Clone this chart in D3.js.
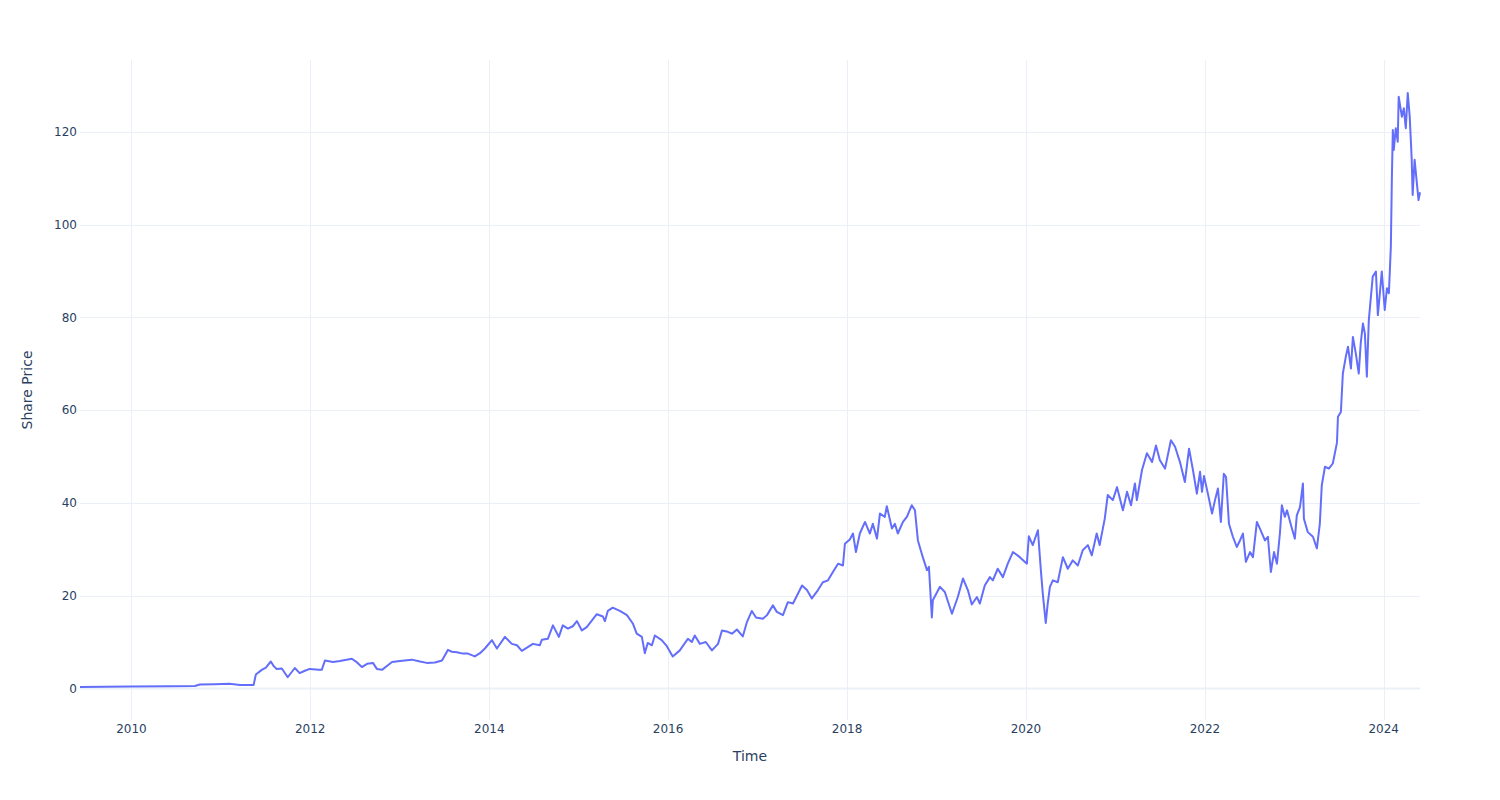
<!DOCTYPE html>
<html>
<head>
<meta charset="utf-8">
<script src="https://cdn.jsdelivr.net/npm/d3@7"></script>
<style>
  html, body { margin: 0; padding: 0; background: #fff; }
  svg { display: block; }
  text { font-family: "DejaVu Sans", sans-serif; fill: #2a3f5f; }
</style>
</head>
<body>
<svg id="chart" width="1500" height="800"></svg>
<script>
// ---- data ----
const dates = [
  "2009-06-05","2009-12-26","2010-06-07","2010-09-17","2010-10-07","2010-12-07",
  "2011-02-06","2011-03-20","2011-05-15","2011-05-24","2011-06-17","2011-07-04","2011-07-24","2011-08-05","2011-08-17","2011-09-07","2011-10-01","2011-10-30","2011-11-19","2011-12-10","2011-12-30",
  "2012-02-05","2012-02-17","2012-03-01","2012-04-03","2012-05-01","2012-06-19","2012-07-10","2012-07-30","2012-08-20","2012-09-13","2012-09-29","2012-10-20","2012-11-13","2012-11-30",
  "2013-01-01","2013-02-19","2013-03-24","2013-04-21","2013-05-24","2013-06-22","2013-07-16","2013-08-01","2013-08-22","2013-09-15","2013-10-06","2013-11-03","2013-11-24","2013-12-14",
  "2014-01-12","2014-02-01","2014-03-06","2014-04-03","2014-04-24","2014-05-14","2014-06-28","2014-07-26","2014-08-04","2014-08-28","2014-09-18","2014-10-12","2014-10-28","2014-11-18","2014-12-08","2014-12-25",
  "2015-01-14","2015-02-03","2015-03-16","2015-04-10","2015-04-18","2015-04-30","2015-05-20","2015-06-18","2015-07-17","2015-08-10","2015-08-26","2015-09-16","2015-09-28","2015-10-10","2015-10-27","2015-11-08","2015-12-06","2015-12-27",
  "2016-01-20","2016-02-18","2016-03-22","2016-04-07","2016-04-19","2016-05-10","2016-06-03","2016-06-28","2016-07-23","2016-08-08","2016-09-01","2016-09-18","2016-10-08","2016-11-01","2016-11-18","2016-12-08","2016-12-25",
  "2017-01-22","2017-02-08","2017-03-04","2017-03-20","2017-04-14","2017-05-04","2017-05-25","2017-07-01","2017-07-21","2017-08-10","2017-09-04","2017-09-24","2017-10-15","2017-11-04","2017-11-25","2017-12-15","2017-12-23",
  "2018-01-12","2018-01-25","2018-02-06","2018-02-22","2018-03-15","2018-04-04","2018-04-16","2018-05-03","2018-05-15","2018-06-04","2018-06-12","2018-07-03","2018-07-15","2018-07-27","2018-08-17","2018-09-02","2018-09-22","2018-10-05","2018-10-17","2018-11-06","2018-11-23","2018-12-01","2018-12-13","2018-12-17",
  "2019-01-15","2019-02-04","2019-03-05","2019-03-29","2019-04-19","2019-05-09","2019-05-25","2019-06-15","2019-06-27","2019-07-17","2019-08-07","2019-08-19","2019-09-08","2019-09-29","2019-10-19","2019-11-09","2019-12-07",
  "2020-01-05","2020-01-13","2020-01-29","2020-02-19","2020-03-02","2020-03-10","2020-03-22","2020-03-30","2020-04-08","2020-04-20","2020-05-10","2020-05-31","2020-06-20","2020-07-10","2020-07-31","2020-08-20","2020-09-10","2020-09-26","2020-10-16","2020-10-28","2020-11-18","2020-11-30","2020-12-21",
  "2021-01-07","2021-01-31","2021-02-17","2021-03-05","2021-03-21","2021-03-29","2021-04-19","2021-05-09","2021-05-30","2021-06-15","2021-07-01","2021-07-22","2021-08-15","2021-09-01","2021-09-21","2021-10-11","2021-10-28","2021-11-13","2021-11-29","2021-12-12","2021-12-20","2021-12-28",
  "2022-01-13","2022-01-30","2022-02-11","2022-02-23","2022-03-07","2022-03-19","2022-03-28","2022-04-09","2022-04-25","2022-05-11","2022-05-24","2022-06-05","2022-06-17","2022-07-04","2022-07-16","2022-08-01","2022-08-13","2022-09-03","2022-09-15","2022-09-27","2022-10-10","2022-10-22","2022-11-03","2022-11-11","2022-11-23","2022-12-02","2022-12-22",
  "2023-01-03","2023-01-11","2023-01-24","2023-02-05","2023-02-09","2023-02-25","2023-03-18","2023-04-03","2023-04-15","2023-04-23","2023-05-06","2023-05-22","2023-06-07","2023-06-24","2023-06-28","2023-07-10","2023-07-18","2023-07-30","2023-08-08","2023-08-20","2023-08-28","2023-09-09","2023-09-21","2023-09-29","2023-10-08","2023-10-16","2023-10-24","2023-11-01","2023-11-17","2023-11-30","2023-12-08","2023-12-16","2023-12-24",
  "2024-01-05","2024-01-14","2024-01-22","2024-01-30","2024-02-03","2024-02-07","2024-02-11","2024-02-19","2024-02-27","2024-03-02","2024-03-15","2024-03-23","2024-03-31","2024-04-08","2024-04-16","2024-04-24","2024-04-28","2024-05-06","2024-05-14","2024-05-22","2024-05-28"
];
const prices = [
  0.3,0.4,0.45,0.5,0.85,0.9,
  1.0,0.75,0.75,3.0,4.0,4.5,5.8,4.8,4.2,4.3,2.4,4.4,3.3,3.8,4.2,
  4.0,4.0,6.0,5.7,5.9,6.4,5.6,4.6,5.3,5.5,4.2,4.0,5.0,5.7,
  5.9,6.2,5.8,5.5,5.6,6.0,8.3,7.9,7.8,7.5,7.5,6.9,7.6,8.6,
  10.4,8.6,11.1,9.6,9.3,8.1,9.6,9.3,10.5,10.7,13.6,11.1,13.6,12.9,13.4,14.5,
  12.5,13.2,16.0,15.5,14.5,16.7,17.4,16.7,15.8,14.0,11.8,11.1,7.6,9.8,9.3,11.4,10.4,9.1,
  6.9,8.2,10.7,10.0,11.4,9.6,10.0,8.2,9.6,12.5,12.2,11.8,12.7,11.2,14.3,16.7,15.3,
  15.0,15.8,17.9,16.5,15.8,18.6,18.3,22.2,21.2,19.4,21.2,22.9,23.3,25.1,26.9,26.5,31.2,
  32.1,33.4,29.4,33.4,35.9,33.4,35.5,32.3,37.7,37.0,39.3,34.5,35.5,33.4,35.9,37.0,39.5,38.4,31.9,28.3,25.5,26.2,15.3,19.0,
  21.9,20.8,16.1,19.7,23.7,21.2,18.1,19.7,18.3,22.2,24.0,23.3,25.8,24.0,26.9,29.4,28.3,
  26.9,32.8,30.9,34.1,25.5,20.4,14.1,18.3,21.9,23.3,22.9,28.3,25.8,27.6,26.5,29.8,30.9,28.7,33.4,30.9,36.6,41.7,40.6,
  43.4,38.4,42.4,39.5,44.2,40.6,47.1,50.7,48.8,52.4,49.2,47.4,53.5,52.1,48.8,44.5,51.7,47.1,42.0,46.7,42.4,45.8,
  42.0,37.7,40.6,43.1,35.9,46.3,45.6,35.5,32.7,30.5,31.9,33.4,27.3,29.4,28.3,35.9,34.5,31.9,32.7,25.1,29.4,26.9,33.4,39.5,37.0,38.4,34.5,
  32.3,37.3,39.1,44.2,36.6,33.7,32.7,30.2,35.5,43.8,47.8,47.4,48.5,53.0,58.6,59.6,67.9,71.5,73.7,69.0,75.8,72.2,67.9,74.4,78.7,76.5,67.2,79.4,88.8,89.9,80.5,85.2,89.9,
  81.6,86.3,85.2,95.3,109.6,120.4,116.1,120.8,117.9,127.6,123.3,125.1,120.8,128.4,123.3,114.3,106.4,114.0,109.6,105.3,107.0
];
const yTicks = [0, 20, 40, 60, 80, 100, 120];
const xTitle = "Time";
const yTitle = "Share Price";

// ---- chart ----
const W = 1500, H = 800;
const M = {left: 80, right: 80, top: 60, bottom: 80};
const parse = d3.utcParse("%Y-%m-%d");
const data = dates.map((d, i) => ({date: parse(d), value: prices[i]}));

const svg = d3.select("#chart");
const x = d3.scaleUtc()
  .domain(d3.extent(data, d => d.date))
  .range([M.left, W - M.right]);

const [ymin, ymax] = d3.extent(data, d => d.value);
const span = (ymax - ymin) / 0.9;
const pad = 0.05 * span;
const y = d3.scaleLinear()
  .domain([ymin - pad, ymax + pad])
  .range([H - M.bottom, M.top]);

const grid = "#EBF0F8";

// vertical grid + x labels
const xTicks = x.ticks(d3.utcYear.every(2));
const gx = svg.append("g");
gx.selectAll("line").data(xTicks).join("line")
  .attr("x1", d => Math.round(x(d)) + 0.5).attr("x2", d => Math.round(x(d)) + 0.5)
  .attr("y1", M.top).attr("y2", H - M.bottom)
  .attr("stroke", grid).attr("stroke-width", 1);
gx.selectAll("text").data(xTicks).join("text")
  .attr("x", d => x(d)).attr("y", H - M.bottom + 13)
  .attr("text-anchor", "middle").attr("font-size", 12)
  .text(d => d3.utcFormat("%Y")(d));

// horizontal grid + y labels
const gy = svg.append("g");
gy.selectAll("line").data(yTicks.filter(t => t !== 0)).join("line")
  .attr("x1", M.left).attr("x2", W - M.right)
  .attr("y1", d => Math.round(y(d)) + 0.5).attr("y2", d => Math.round(y(d)) + 0.5)
  .attr("stroke", grid).attr("stroke-width", 1);
gy.selectAll("text").data(yTicks).join("text")
  .attr("x", M.left - 3).attr("y", d => y(d) + 4.2)
  .attr("text-anchor", "end").attr("font-size", 12)
  .text(d => d3.format("d")(d));

// zero line
svg.append("line")
  .attr("x1", M.left).attr("x2", W - M.right)
  .attr("y1", y(0)).attr("y2", y(0))
  .attr("stroke", grid).attr("stroke-width", 2);

// series line
const line = d3.line().x(d => x(d.date)).y(d => y(d.value));
svg.append("path").datum(data)
  .attr("d", line)
  .attr("fill", "none")
  .attr("stroke", "#636efa")
  .attr("stroke-width", 2)
  .attr("stroke-linejoin", "round");

// axis titles
svg.append("text")
  .attr("x", (M.left + W - M.right) / 2).attr("y", 761)
  .attr("text-anchor", "middle").attr("font-size", 14)
  .text(xTitle);
svg.append("text")
  .attr("transform", `translate(32, ${(M.top + H - M.bottom) / 2}) rotate(-90)`)
  .attr("text-anchor", "middle").attr("font-size", 14)
  .text(yTitle);
</script>
</body>
</html>
